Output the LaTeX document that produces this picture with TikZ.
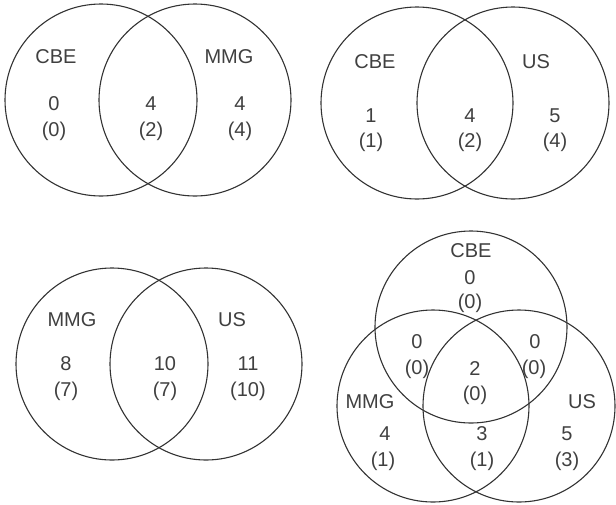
\documentclass[tikz,border=0pt]{standalone}
\usepackage{fontspec}
\setmainfont{Liberation Sans}
\begin{document}
\begin{tikzpicture}[x=1pt,y=-1pt,
  venn/.style={circle,draw=black!80,line width=1.1pt,minimum size=192pt,inner sep=0pt},
  lbl/.style={anchor=base,inner sep=0pt,text=black!75,font=\fontsize{20}{20}\selectfont}]
\useasboundingbox (0,0) rectangle (616,504);
% top-left
\node[venn] (a1) at (101,100) {};
\node[venn] (a2) at (195,100) {};
\node[lbl] (a1n) at (56,63) {CBE};
\node[lbl] (a2n) at (229,63) {MMG};
\node[lbl] (a1v) at (54,110) {0};
\node[lbl] (a1p) at (54,136) {(0)};
\node[lbl] (a12v) at (151,110) {4};
\node[lbl] (a12p) at (151,136) {(2)};
\node[lbl] (a2v) at (240,110) {4};
\node[lbl] (a2p) at (240,136) {(4)};
% top-right
\node[venn] (b1) at (417,103) {};
\node[venn] (b2) at (513,103) {};
\node[lbl] (b1n) at (375,68) {CBE};
\node[lbl] (b2n) at (536,68) {US};
\node[lbl] (b1v) at (371,122) {1};
\node[lbl] (b1p) at (371,147) {(1)};
\node[lbl] (b12v) at (470,122) {4};
\node[lbl] (b12p) at (470,147) {(2)};
\node[lbl] (b2v) at (555,122) {5};
\node[lbl] (b2p) at (555,147) {(4)};
% bottom-left
\node[venn] (c1) at (112,364) {};
\node[venn] (c2) at (206,364) {};
\node[lbl] (c1n) at (72,326) {MMG};
\node[lbl] (c2n) at (232,326) {US};
\node[lbl] (c1v) at (66,370) {8};
\node[lbl] (c1p) at (66,396) {(7)};
\node[lbl] (c12v) at (165,370) {10};
\node[lbl] (c12p) at (165,396) {(7)};
\node[lbl] (c2v) at (248,370) {11};
\node[lbl] (c2p) at (248,396) {(10)};
% bottom-right
\node[venn] (d1) at (471,327) {};
\node[venn] (d2) at (433,406) {};
\node[venn] (d3) at (519,406) {};
\node[lbl] (d1n) at (471,257) {CBE};
\node[lbl] (d1v) at (470,284) {0};
\node[lbl] (d1p) at (470,308) {(0)};
\node[lbl] (d12v) at (417,348) {0};
\node[lbl] (d12p) at (417,374) {(0)};
\node[lbl] (d13v) at (535,348) {0};
\node[lbl] (d13p) at (534,374) {(0)};
\node[lbl] (d123v) at (475,375) {2};
\node[lbl] (d123p) at (475,400) {(0)};
\node[lbl] (d2n) at (370,408) {MMG};
\node[lbl] (d3n) at (582,408) {US};
\node[lbl] (d2v) at (385,440) {4};
\node[lbl] (d2p) at (383,466) {(1)};
\node[lbl] (d23v) at (482,440) {3};
\node[lbl] (d23p) at (482,466) {(1)};
\node[lbl] (d3v) at (567,440) {5};
\node[lbl] (d3p) at (567,466) {(3)};
\end{tikzpicture}
\end{document}
